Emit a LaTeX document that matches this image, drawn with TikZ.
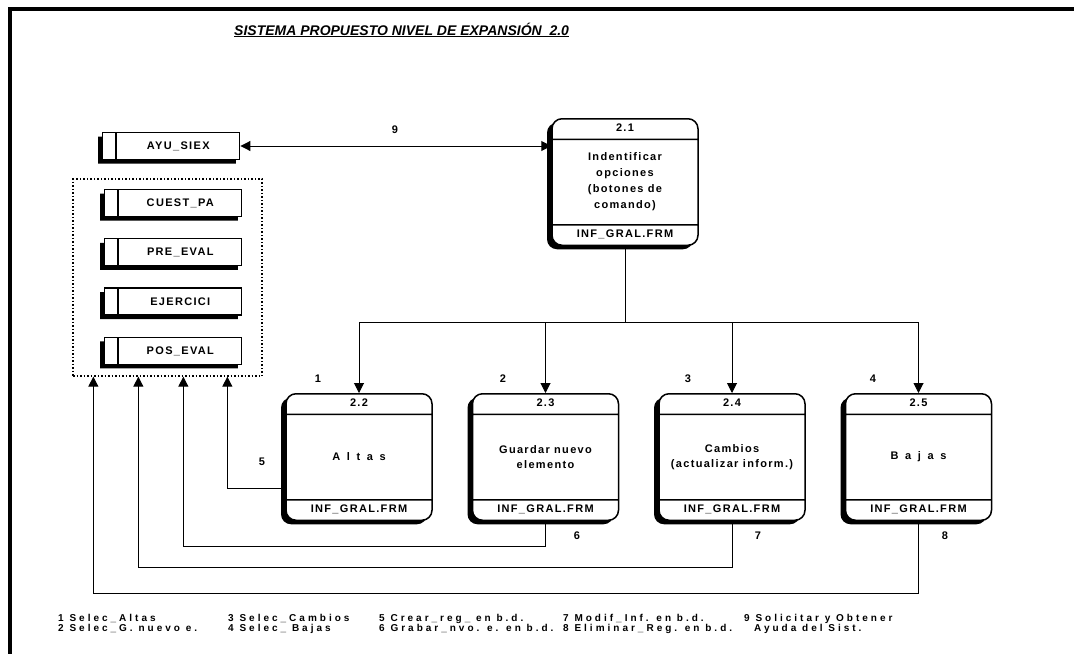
\documentclass[tikz,border=0pt]{standalone}
\usepackage{fontspec}
\setmainfont{Liberation Sans}[LetterSpace=12]
\newfontfamily\leyendafont{Liberation Sans}[LetterSpace=30]
\newfontfamily\titulofont{Liberation Sans}
\usetikzlibrary{arrows.meta, positioning, shapes.multipart, shadows, fit, calc}

\begin{document}
\begin{tikzpicture}[
    x=1pt, y=-1pt,
    font=\bfseries\fontsize{11}{13}\selectfont,
    node distance=39pt and 39pt,
    proceso/.style={rectangle split, rectangle split parts=3, draw, line width=1.5pt, rounded corners=10pt, fill=white, minimum width=146pt, inner xsep=3pt, inner ysep=3pt, anchor=north, general shadow={fill=black, shadow xshift=-5pt, shadow yshift=-4pt}},
    almacen/.style={rectangle split, rectangle split horizontal, rectangle split parts=2, draw, line width=1.3pt, fill=white, minimum height=27pt, inner xsep=4pt, inner ysep=0pt, general shadow={fill=black, shadow xshift=-4pt, shadow yshift=-4pt}},
    grupo/.style={draw, dash pattern=on 1.5pt off 2pt, line width=1.3pt, inner sep=0pt},
    flecha/.style={-{Triangle[length=10pt, width=10pt]}, line width=1pt},
    doble/.style={{Triangle[length=10pt, width=10pt]}-{Triangle[length=10pt, width=10pt]}, line width=1pt},
    linea/.style={line width=1pt},
    etiq/.style={inner sep=1pt},
    leyenda/.style={align=left, inner sep=0pt, anchor=north west, font=\leyendafont\bfseries\fontsize{10}{10}\selectfont},
    marco/.style={line width=4pt}
]
\useasboundingbox (0,0) rectangle (1074,654);

% marco y titulo
\draw[marco] (1074,9) -| (10,654);
\node[anchor=west, inner sep=0pt, font=\titulofont\bfseries\itshape\fontsize{14}{16}\selectfont] (titulo) at (234,30) {\underline{SISTEMA PROPUESTO NIVEL DE EXPANSIÓN\ \ 2.0}};

% almacenes
\node[almacen] (ayu) at (171,146) {\nodepart{one}\hspace{16pt}\nodepart{two}\makebox[115pt]{AYU\_SIEX}};
\node[almacen] (cuest) at (173,203) {\nodepart{one}\hspace{16pt}\nodepart{two}\makebox[115pt]{CUEST\_PA}};
\node[almacen, below=21pt of cuest] (pre) {\nodepart{one}\hspace{16pt}\nodepart{two}\makebox[115pt]{PRE\_EVAL}};
\node[almacen, below=21pt of pre] (eje) {\nodepart{one}\hspace{16pt}\nodepart{two}\makebox[115pt]{EJERCICI}};
\node[almacen, below=21pt of eje] (pos) {\nodepart{one}\hspace{16pt}\nodepart{two}\makebox[115pt]{POS\_EVAL}};
\node[grupo, fit={(73,179) (262,376)}] (grupo) {};

% procesos
\node[proceso] (p21) at (625,118) {2.1\strut\nodepart{two}\parbox[c][78pt][c]{140pt}{\centering\fontsize{11}{16}\selectfont Indentificar\\opciones\\(botones de\\comando)}\nodepart{three}INF\_GRAL.FRM\strut};
\node[proceso] (p22) at (359,393) {2.2\strut\nodepart{two}\parbox[c][78pt][c]{140pt}{\centering\addfontfeature{LetterSpace=60}Altas}\nodepart{three}INF\_GRAL.FRM\strut};
\node[proceso, right=of p22] (p23) {2.3\strut\nodepart{two}\parbox[c][78pt][c]{140pt}{\centering\fontsize{11}{15}\selectfont Guardar nuevo\\elemento}\nodepart{three}INF\_GRAL.FRM\strut};
\node[proceso, right=of p23] (p24) {2.4\strut\nodepart{two}\parbox[c][78pt][c]{140pt}{\centering\fontsize{11}{15}\selectfont Cambios\\(actualizar inform.)}\nodepart{three}INF\_GRAL.FRM\strut};
\node[proceso, right=of p24] (p25) {2.5\strut\nodepart{two}\parbox[c][78pt][c]{140pt}{\centering\addfontfeature{LetterSpace=60}Bajas}\nodepart{three}INF\_GRAL.FRM\strut};

% flujos
\draw[doble] (ayu.east) -- (ayu.east -| p21.west);
\coordinate (rama) at ($(p21.south)+(0,76)$);
\draw[linea] (p21.south) -- (rama);
\draw[flecha] (rama) -| (p22.north);
\draw[flecha] (rama) -| (p23.north);
\draw[flecha] (rama) -| (p24.north);
\draw[flecha] (rama) -| (p25.north);

\draw[flecha] ([yshift=33pt]p22.south west) -| ([xshift=155pt]grupo.south west);
\draw[flecha] (p23.south) -- ++(0,25) -| ([xshift=111pt]grupo.south west);
\draw[flecha] (p24.south) -- ++(0,46) -| ([xshift=66pt]grupo.south west);
\draw[flecha] (p25.south) -- ++(0,72) -| ([xshift=21pt]grupo.south west);

% etiquetas
\node[etiq] (n9) at (395,130) {9};
\node[etiq] (n1) at (318,379) {1};
\node[etiq] (n2) at (503,379) {2};
\node[etiq] (n3) at (688,379) {3};
\node[etiq] (n4) at (873,379) {4};
\node[etiq] (n5) at (262,462) {5};
\node[etiq] (n6) at (577,536) {6};
\node[etiq] (n7) at (758,536) {7};
\node[etiq] (n8) at (945,536) {8};

% leyenda
\node[leyenda] (ley1) at (58,614) {1 Selec\_Altas\\2 Selec\_G. nuevo e.};
\node[leyenda] (ley2) at (228,614) {3 Selec\_Cambios\\4 Selec\_ Bajas};
\node[leyenda] (ley3) at (379,614) {5 Crear\_reg\_ en b.d.\\6 Grabar\_nvo. e. en b.d.};
\node[leyenda] (ley4) at (563,614) {7 Modif\_Inf. en b.d.\\8 Eliminar\_Reg. en b.d.};
\node[leyenda] (ley5) at (744,614) {9 Solicitar y Obtener\\\hspace*{10pt}Ayuda del Sist.};
\end{tikzpicture}
\end{document}
